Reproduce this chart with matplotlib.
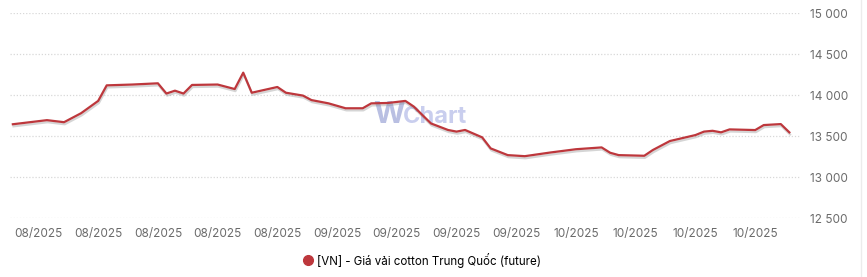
import matplotlib
matplotlib.use("Agg")
import matplotlib.pyplot as plt
import matplotlib.dates as mdates
import matplotlib.patheffects as pe
import pandas as pd
from matplotlib.lines import Line2D

plt.rcParams['font.family'] = ['Inter', 'DejaVu Sans']

# Data
dates = ["2025-07-29", "2025-07-31", "2025-08-02", "2025-08-04", "2025-08-06",
         "2025-08-08", "2025-08-09", "2025-08-12", "2025-08-15", "2025-08-16",
         "2025-08-17", "2025-08-18", "2025-08-19", "2025-08-22", "2025-08-24",
         "2025-08-25", "2025-08-26", "2025-08-29", "2025-08-30", "2025-09-01",
         "2025-09-02", "2025-09-04", "2025-09-06", "2025-09-08", "2025-09-09",
         "2025-09-11", "2025-09-13", "2025-09-14", "2025-09-16", "2025-09-18",
         "2025-09-19", "2025-09-20", "2025-09-22", "2025-09-23", "2025-09-25",
         "2025-09-27", "2025-09-30", "2025-10-03", "2025-10-06", "2025-10-07",
         "2025-10-08", "2025-10-11", "2025-10-12", "2025-10-14", "2025-10-17",
         "2025-10-18", "2025-10-19", "2025-10-20", "2025-10-21", "2025-10-24",
         "2025-10-25", "2025-10-27", "2025-10-28"]
prices = [13645, 13670, 13695, 13670, 13780,
          13930, 14120, 14130, 14145, 14020,
          14055, 14020, 14125, 14130, 14075,
          14275, 14030, 14100, 14030, 13995,
          13940, 13900, 13840, 13840, 13900,
          13905, 13930, 13860, 13655, 13575,
          13555, 13575, 13485, 13350, 13268,
          13255, 13300, 13340, 13362, 13297,
          13268, 13260, 13330, 13440, 13513,
          13555, 13565, 13546, 13582, 13574,
          13635, 13647, 13546]

tick_dates = ["2025-08-01", "2025-08-08", "2025-08-15", "2025-08-22", "2025-08-29",
              "2025-09-05", "2025-09-12", "2025-09-19", "2025-09-26",
              "2025-10-03", "2025-10-10", "2025-10-17", "2025-10-24"]
y_ticks = [12500, 13000, 13500, 14000, 14500, 15000]
series_name = "[VN] - Giá vải cotton Trung Quốc (future)"

x = pd.to_datetime(dates)

fig = plt.figure(figsize=(8.67, 2.77), dpi=100)
ax = fig.add_axes([10 / 867, 1 - 218 / 277, 790 / 867, (218 - 13.3) / 277])

line_color = '#bd373c'
ax.plot(x, prices, color=line_color, lw=1.6, zorder=3,
        path_effects=[pe.SimpleLineShadow(offset=(0.5, -1.5), shadow_color='#888888', alpha=0.35),
                      pe.Normal()])

ax.set_ylim(12500, 15000)
ax.set_xlim(pd.Timestamp("2025-07-28 16:00"), pd.Timestamp("2025-10-29 06:00"))

ax.set_yticks(y_ticks)
ax.set_yticklabels([f"{v:,}".replace(",", " ") for v in y_ticks])
ax.yaxis.tick_right()
ax.set_xticks(pd.to_datetime(tick_dates))
ax.xaxis.set_major_formatter(mdates.DateFormatter("%m/%Y"))

ax.tick_params(axis='y', length=0, pad=7, labelsize=8.5, labelcolor='#6b6b6b')
ax.tick_params(axis='x', length=0, pad=7, labelsize=8.5, labelcolor='#6b6b6b')

ax.grid(axis='y', color='#d8d8d8', linestyle=(0, (1, 1.5)), lw=0.9)
ax.grid(axis='x', visible=False)
for s in ax.spines.values():
    s.set_visible(False)

# watermark
ax.text(0.460, 0.462, "W", transform=ax.transAxes, fontsize=22, fontweight='bold',
        color='#b9bfe2', ha='left', va='baseline', zorder=1)
ax.text(0.4975, 0.462, "Chart", transform=ax.transAxes, fontsize=17, fontweight='bold',
        color='#c9ceee', ha='left', va='baseline', zorder=1)

# right border line
fig.add_artist(Line2D([861 / 867, 861 / 867], [0.0, 1.0], color='#ececec', lw=1))

# legend
handle = Line2D([], [], marker='o', color='none', markerfacecolor=line_color,
                markeredgecolor=line_color, markersize=7)
fig.legend([handle], [series_name], loc='center', bbox_to_anchor=(422 / 867, 1 - 260 / 277),
           frameon=False, fontsize=8.3, handletextpad=0.3, handlelength=1.0)

fig.savefig("out.png", dpi=100)
